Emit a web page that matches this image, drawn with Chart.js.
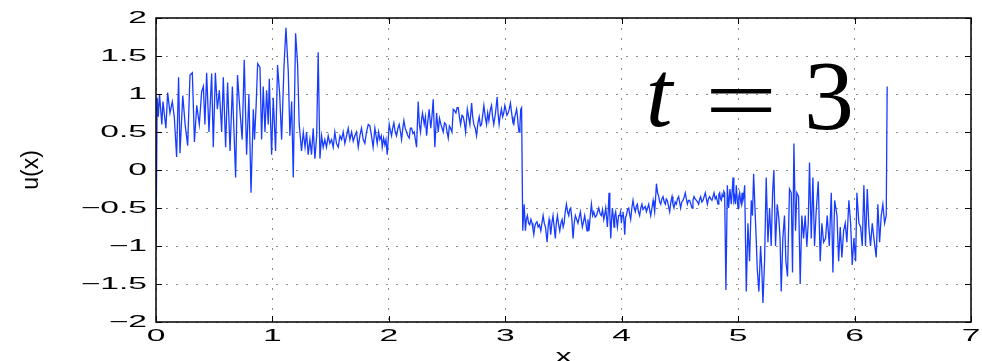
<!DOCTYPE html>
<html>
<head>
<meta charset="utf-8">
<script src="https://cdn.jsdelivr.net/npm/chart.js@4.4.1/dist/chart.umd.min.js"></script>
<style>
  html, body { margin: 0; padding: 0; background: #fff; }
</style>
</head>
<body>
<canvas id="chart" width="982" height="361"></canvas>
<script>
// sample positions
const xs = [
  0, 0.01, 0.02, 0.03, 0.05, 0.06, 0.085, 0.1, 0.12, 0.14,
  0.157, 0.177, 0.194, 0.206, 0.23, 0.25, 0.272, 0.292, 0.312, 0.33,
  0.35, 0.372, 0.392, 0.407, 0.42, 0.435, 0.455, 0.478, 0.492, 0.51,
  0.527, 0.544, 0.564, 0.578, 0.598, 0.615, 0.636, 0.656, 0.684, 0.7,
  0.72, 0.74, 0.758, 0.778, 0.798, 0.816, 0.836, 0.846, 0.86, 0.873,
  0.893, 0.907, 0.921, 0.936, 0.95, 0.964, 0.973, 0.993, 1.007, 1.027,
  1.044, 1.062, 1.079, 1.099, 1.116, 1.136, 1.15, 1.165, 1.179, 1.199,
  1.216, 1.23, 1.25, 1.265, 1.28, 1.293, 1.307, 1.322, 1.336, 1.35,
  1.365, 1.38, 1.393, 1.408, 1.422, 1.436, 1.45, 1.464, 1.479, 1.493,
  1.508, 1.522, 1.536, 1.55, 1.565, 1.58, 1.594, 1.608, 1.622, 1.637,
  1.651, 1.665, 1.68, 1.694, 1.708, 1.722, 1.737, 1.751, 1.765, 1.78,
  1.794, 1.808, 1.823, 1.837, 1.851, 1.865, 1.88, 1.9, 1.912, 1.923,
  1.935, 1.943, 1.955, 1.966, 1.975, 1.986, 2.003, 2.013, 2.023, 2.033,
  2.043, 2.055, 2.066, 2.078, 2.089, 2.1, 2.109, 2.12, 2.129, 2.14,
  2.152, 2.163, 2.175, 2.185, 2.195, 2.207, 2.218, 2.228, 2.238, 2.252,
  2.262, 2.272, 2.282, 2.289, 2.304, 2.314, 2.324, 2.335, 2.346, 2.36,
  2.37, 2.381, 2.395, 2.41, 2.424, 2.435, 2.447, 2.457, 2.467, 2.478,
  2.49, 2.5, 2.51, 2.52, 2.53, 2.542, 2.553, 2.565, 2.576, 2.586,
  2.596, 2.606, 2.616, 2.628, 2.639, 2.649, 2.659, 2.674, 2.685, 2.696,
  2.711, 2.72, 2.73, 2.742, 2.753, 2.765, 2.776, 2.786, 2.796, 2.806,
  2.816, 2.828, 2.839, 2.849, 2.859, 2.87, 2.882, 2.891, 2.901, 2.916,
  2.93, 2.938, 2.947, 2.957, 2.967, 2.977, 2.987, 2.996, 3.004, 3.014,
  3.024, 3.034, 3.044, 3.052, 3.059, 3.066, 3.073, 3.082, 3.09, 3.097,
  3.104, 3.11, 3.118, 3.126, 3.133, 3.14, 3.15, 3.162, 3.173, 3.181,
  3.19, 3.2, 3.21, 3.22, 3.23, 3.238, 3.245, 3.253, 3.262, 3.272,
  3.282, 3.293, 3.305, 3.315, 3.325, 3.335, 3.345, 3.359, 3.368, 3.376,
  3.383, 3.39, 3.4, 3.41, 3.42, 3.43, 3.438, 3.448, 3.458, 3.468,
  3.478, 3.488, 3.497, 3.505, 3.515, 3.525, 3.535, 3.545, 3.553, 3.562,
  3.572, 3.582, 3.592, 3.602, 3.613, 3.624, 3.635, 3.645, 3.653, 3.662,
  3.672, 3.682, 3.692, 3.702, 3.71, 3.719, 3.73, 3.74, 3.75, 3.76,
  3.772, 3.783, 3.793, 3.803, 3.815, 3.825, 3.835, 3.846, 3.855, 3.863,
  3.87, 3.877, 3.884, 3.891, 3.898, 3.906, 3.913, 3.92, 3.927, 3.934,
  3.94, 3.948, 3.955, 3.963, 3.973, 3.983, 3.99, 3.997, 4.004, 4.011,
  4.018, 4.026, 4.033, 4.04, 4.05, 4.06, 4.068, 4.077, 4.087, 4.097,
  4.107, 4.117, 4.125, 4.134, 4.144, 4.154, 4.164, 4.174, 4.183, 4.192,
  4.202, 4.212, 4.222, 4.232, 4.24, 4.249, 4.26, 4.27, 4.277, 4.283,
  4.29, 4.298, 4.308, 4.318, 4.326, 4.335, 4.345, 4.355, 4.365, 4.375,
  4.383, 4.392, 4.402, 4.412, 4.422, 4.432, 4.44, 4.449, 4.459, 4.469,
  4.479, 4.489, 4.497, 4.506, 4.516, 4.526, 4.536, 4.546, 4.555, 4.564,
  4.574, 4.584, 4.594, 4.604, 4.612, 4.621, 4.631, 4.641, 4.651, 4.661,
  4.67, 4.678, 4.688, 4.698, 4.708, 4.718, 4.727, 4.736, 4.745, 4.755,
  4.765, 4.775, 4.784, 4.793, 4.803, 4.813, 4.82, 4.827, 4.834, 4.841,
  4.848, 4.856, 4.863, 4.87, 4.877, 4.884, 4.895, 4.907, 4.918, 4.93,
  4.941, 4.948, 4.956, 4.963, 4.97, 4.977, 4.984, 4.992, 4.999, 5.006,
  5.013, 5.02, 5.027, 5.034, 5.041, 5.048, 5.056, 5.07, 5.084, 5.098,
  5.113, 5.123, 5.133, 5.147, 5.155, 5.164, 5.178, 5.193, 5.203, 5.213,
  5.227, 5.241, 5.256, 5.27, 5.284, 5.296, 5.307, 5.321, 5.336, 5.35,
  5.36, 5.37, 5.384, 5.398, 5.41, 5.424, 5.441, 5.456, 5.467, 5.479,
  5.493, 5.504, 5.519, 5.533, 5.547, 5.562, 5.576, 5.59, 5.602, 5.613,
  5.628, 5.642, 5.656, 5.67, 5.688, 5.705, 5.719, 5.734, 5.751, 5.765,
  5.783, 5.8, 5.814, 5.829, 5.849, 5.863, 5.877, 5.891, 5.906, 5.92,
  5.934, 5.951, 5.966, 5.98, 5.994, 6.009, 6.02, 6.037, 6.052, 6.066,
  6.08, 6.094, 6.109, 6.123, 6.137, 6.152, 6.166, 6.186, 6.2, 6.215,
  6.229, 6.243, 6.258, 6.272, 6.28
]

// u(x) at t = 3
const ys = [
  -1.05, 0.95, 0.7, 1.0, 0.6, 0.9, 0.55, 1.02, 0.75, 0.9,
  0.7, 0.17, 1.22, 0.22, 0.98, 0.6, 0.32, 1.25, 1.28, 0.37,
  0.85, 0.6, 1.03, 1.1, 0.6, 1.28, 0.5, 1.27, 0.3, 1.28,
  0.8, 1.05, 0.5, 1.22, 0.3, 1.15, 0.25, 1.1, -0.1, 1.25,
  0.8, 0.4, 1.45, 0.2, 1.0, -0.3, 0.8, 0.4, 0.85, 1.4,
  1.35, 0.4, 1.1, 0.5, 1.05, 0.6, 1.2, 0.2, 0.95, 0.25,
  1.38, 1.0, 0.4, 1.35, 1.87, 1.3, 0.45, 0.9, -0.1, 1.8,
  1.4, 0.6, 0.25, 0.5, 0.3, 0.5, 0.2, 0.4, 0.2, 0.55,
  0.15, 0.45, 1.55, 0.15, 0.45, 0.3, 0.4, 0.3, 0.45, 0.35,
  0.4, 0.3, 0.5, 0.35, 0.3, 0.45, 0.4, 0.5, 0.35, 0.45,
  0.55, 0.4, 0.5, 0.38, 0.45, 0.5, 0.3, 0.45, 0.55, 0.4,
  0.35, 0.5, 0.6, 0.58, 0.45, 0.3, 0.55, 0.35, 0.5, 0.4,
  0.45, 0.3, 0.42, 0.33, 0.4, 0.2, 0.6, 0.52, 0.45, 0.55,
  0.62, 0.5, 0.45, 0.55, 0.6, 0.5, 0.4, 0.55, 0.65, 0.55,
  0.5, 0.45, 0.42, 0.55, 0.55, 0.48, 0.5, 0.4, 0.3, 0.9,
  0.6, 0.5, 0.68, 0.75, 0.6, 0.7, 0.45, 0.65, 0.8, 0.55,
  0.7, 0.93, 0.3, 0.75, 0.5, 0.68, 0.6, 0.55, 0.5, 0.62,
  0.6, 0.5, 0.42, 0.58, 0.55, 0.5, 0.8, 0.78, 0.75, 0.82,
  0.82, 0.7, 0.6, 0.72, 0.7, 0.62, 0.5, 0.8, 0.7, 0.6,
  0.88, 0.7, 0.6, 0.55, 0.45, 0.62, 0.7, 0.58, 0.6, 0.72,
  0.85, 0.7, 0.6, 0.75, 0.65, 0.78, 0.85, 0.7, 0.6, 0.75,
  0.96, 0.75, 0.6, 0.72, 0.8, 0.7, 0.75, 0.85, 0.8, 0.72,
  0.75, 0.8, 0.88, 0.78, 0.7, 0.62, 0.6, 0.7, 0.75, 0.8,
  0.72, 0.6, 0.5, 0.6, 0.8, 0.82, -0.8, -0.45, -0.8, -0.65,
  -0.6, -0.7, -0.72, -0.65, -0.7, -0.78, -0.85, -0.75, -0.7, -0.68,
  -0.75, -0.72, -0.8, -0.7, -0.6, -0.7, -0.75, -0.95, -0.75, -0.65,
  -0.72, -0.85, -0.7, -0.6, -0.75, -0.9, -0.7, -0.6, -0.72, -0.8,
  -0.7, -0.65, -0.75, -0.7, -0.55, -0.45, -0.55, -0.6, -0.52, -0.5,
  -0.65, -0.9, -0.7, -0.6, -0.65, -0.7, -0.62, -0.55, -0.65, -0.75,
  -0.68, -0.6, -0.7, -0.8, -0.65, -0.8, -0.6, -0.45, -0.6, -0.55,
  -0.62, -0.6, -0.55, -0.5, -0.58, -0.6, -0.52, -0.65, -0.58, -0.5,
  -0.62, -0.75, -0.55, -0.3, -0.6, -0.9, -0.65, -0.5, -0.62, -0.75,
  -0.6, -0.55, -0.65, -0.75, -0.6, -0.6, -0.55, -0.7, -0.6, -0.55,
  -0.65, -0.85, -0.62, -0.6, -0.52, -0.5, -0.58, -0.65, -0.5, -0.4,
  -0.5, -0.55, -0.48, -0.45, -0.55, -0.6, -0.5, -0.45, -0.52, -0.5,
  -0.48, -0.55, -0.5, -0.45, -0.52, -0.6, -0.5, -0.4, -0.48, -0.55,
  -0.4, -0.18, -0.3, -0.35, -0.42, -0.45, -0.38, -0.35, -0.42, -0.45,
  -0.38, -0.4, -0.48, -0.55, -0.42, -0.35, -0.45, -0.5, -0.42, -0.45,
  -0.38, -0.35, -0.42, -0.5, -0.42, -0.4, -0.36, -0.3, -0.38, -0.45,
  -0.4, -0.4, -0.45, -0.5, -0.4, -0.35, -0.38, -0.4, -0.42, -0.45,
  -0.38, -0.35, -0.42, -0.4, -0.35, -0.3, -0.38, -0.45, -0.38, -0.35,
  -0.38, -0.4, -0.35, -0.3, -0.38, -0.35, -0.4, -0.45, -0.32, -0.3,
  -0.38, -0.4, -0.32, -0.35, -0.28, -0.3, -1.58, -0.2, -0.5, -0.25,
  -0.45, -0.3, -0.1, -0.4, -0.35, -0.45, -0.2, -0.38, -0.5, -0.35,
  -0.3, -0.4, -0.45, -0.3, -0.4, -0.35, -0.2, -1.6, -0.7, -1.2,
  -0.4, -0.6, -0.05, -0.6, -0.9, -1.3, -1.6, -1.0, -1.3, -1.75,
  -1.2, -0.1, -0.95, -0.5, -1.0, -0.3, 0.0, -1.0, -0.45, -0.65,
  -0.9, -1.6, -0.9, -0.6, -1.2, -1.4, -0.25, -0.3, -1.35, 0.35,
  -0.8, -0.3, -0.35, -1.5, -0.6, -0.9, -0.6, -1.0, -0.7, 0.1,
  -0.9, -0.1, -1.0, -0.55, -0.15, -1.2, -0.7, -0.95, -0.9, -0.6,
  -1.0, -0.3, -1.35, -0.4, -0.6, -1.2, -0.75, -1.15, -0.8, -0.7,
  -0.95, -0.4, -0.7, -1.25, -0.9, -1.2, -0.3, -0.7, -0.75, -1.0,
  -0.2, -1.0, -0.25, -0.75, -1.0, -0.7, -0.9, -1.15, -0.45, -0.95,
  -0.6, -0.45, -0.7, -0.6, 1.1
]

const xTicks = [0, 1, 2, 3, 4, 5, 6, 7]
const yTicks = [-2, -1.5, -1, -0.5, 0, 0.5, 1, 1.5, 2]
const xTitle = 'x'
const yTitle = 'u(x)'

const fmt = v => (v < 0 ? '\u2212' + Math.abs(v) : String(v))
const sans = '"Liberation Sans", Arial, sans-serif'

// wide MATLAB export text: draw it squeezed into a horizontal stretch
function wideText (ctx, text, x, y, sx) {
  ctx.save()
  ctx.translate(x, y)
  ctx.scale(sx, 1)
  ctx.fillText(text, 0, 0)
  ctx.restore()
}

// MATLAB style box, inward ticks, tick labels, titles and the t = 3 note
const decor = {
  id: 'decor',
  afterDraw (chart) {
    const { ctx, chartArea: a, scales: { x, y } } = chart
    ctx.save()
    ctx.strokeStyle = '#000'
    ctx.lineWidth = 1
    ctx.beginPath()
    xTicks.forEach(v => {
      const px = Math.round(x.getPixelForValue(v)) + 0.5
      ctx.moveTo(px, a.bottom); ctx.lineTo(px, a.bottom - 6)
      ctx.moveTo(px, a.top); ctx.lineTo(px, a.top + 6)
    })
    yTicks.forEach(v => {
      const py = Math.round(y.getPixelForValue(v)) + 0.5
      ctx.moveTo(a.left, py); ctx.lineTo(a.left + 6, py)
      ctx.moveTo(a.right, py); ctx.lineTo(a.right - 6, py)
    })
    ctx.stroke()
    ctx.lineWidth = 1.5
    ctx.strokeRect(a.left, a.top, a.right - a.left, a.bottom - a.top)

    ctx.fillStyle = '#000'
    ctx.font = '16px ' + sans
    ctx.textBaseline = 'middle'
    ctx.textAlign = 'right'
    yTicks.forEach(v => wideText(ctx, fmt(v), a.left - 9, y.getPixelForValue(v) + 1, 2.1))
    ctx.textAlign = 'center'
    xTicks.forEach(v => wideText(ctx, fmt(v), x.getPixelForValue(v), a.bottom + 15, 2.1))

    ctx.textBaseline = 'top'
    ctx.font = '19px ' + sans
    wideText(ctx, xTitle, (a.left + a.right) / 2, 347, 1.7)
    ctx.save()
    ctx.translate(32, (a.top + a.bottom) / 2)
    ctx.rotate(-Math.PI / 2)
    ctx.textBaseline = 'middle'
    ctx.font = '23px ' + sans
    ctx.fillText(yTitle, 0, 0)
    ctx.restore()

    ctx.textBaseline = 'alphabetic'
    ctx.font = 'italic 96px "Liberation Serif", serif'
    ctx.fillText('t', 659, 126)
    ctx.font = '92px "Liberation Serif", serif'
    wideText(ctx, '=', 741, 131, 1.4)
    ctx.font = '100px "Liberation Serif", serif'
    ctx.fillText('3', 829, 129)
    ctx.restore()
  }
}

// eslint-disable-next-line no-new
new Chart(document.getElementById('chart'), {
  type: 'line',
  data: {
    datasets: [{
      data: xs.map((v, i) => ({ x: v, y: ys[i] })),
      borderColor: 'rgb(24, 60, 255)',
      borderWidth: 1.3,
      pointRadius: 0,
      tension: 0,
      fill: false
    }]
  },
  options: {
    responsive: false,
    animation: false,
    parsing: false,
    layout: { padding: { top: 18, right: 11, left: 0, bottom: 0 } },
    plugins: { legend: { display: false }, tooltip: { enabled: false } },
    scales: {
      x: {
        type: 'linear',
        min: 0,
        max: 7,
        afterFit: s => { s.height = 39 },
        afterBuildTicks: s => { s.ticks = xTicks.map(v => ({ value: v })) },
        ticks: { display: false },
        grid: { color: '#8a8a8a', lineWidth: 1, drawTicks: false },
        border: { display: false, dash: [2, 8] }
      },
      y: {
        type: 'linear',
        min: -2,
        max: 2,
        afterFit: s => { s.width = 156 },
        afterBuildTicks: s => { s.ticks = yTicks.map(v => ({ value: v })) },
        ticks: { display: false },
        grid: { color: '#8a8a8a', lineWidth: 1, drawTicks: false },
        border: { display: false, dash: [2, 8] }
      }
    }
  },
  plugins: [decor]
})
</script>
</body>
</html>
